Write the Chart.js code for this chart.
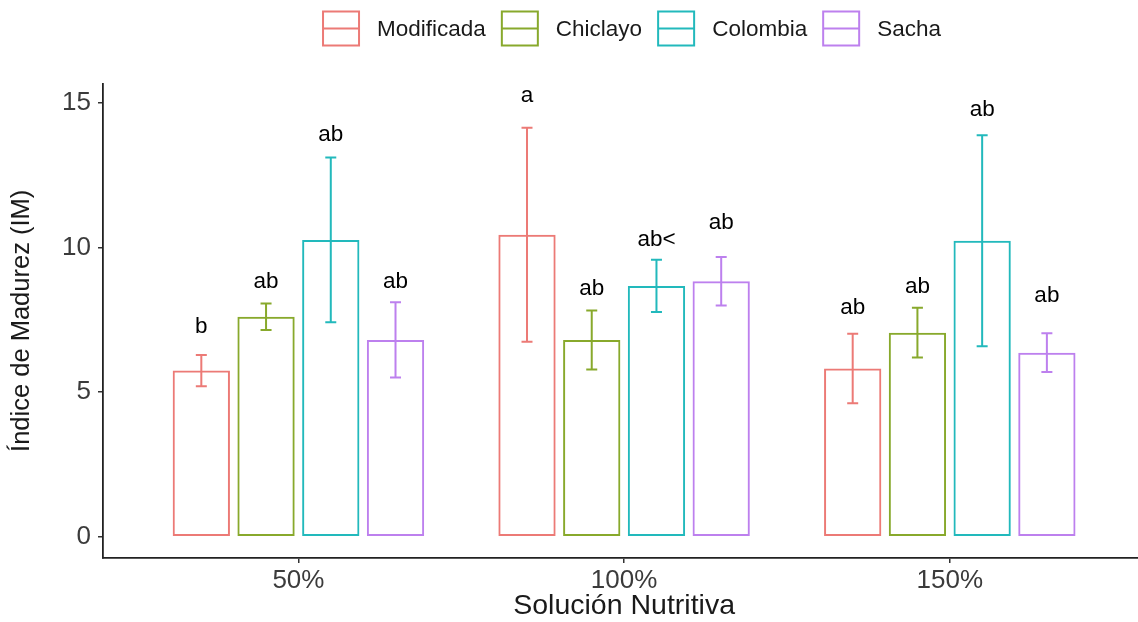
<!DOCTYPE html>
<html><head><meta charset="utf-8">
<script src="https://cdn.jsdelivr.net/npm/chart.js@4"></script>
<style>html,body{margin:0;padding:0;overflow:hidden;background:#fff}canvas{display:block}</style>
</head><body><canvas id="c" width="1150" height="622"></canvas>
<script>
// ---- data ----
const categories = ['50%', '100%', '150%'];
const seriesNames = ['Modificada', 'Chiclayo', 'Colombia', 'Sacha'];
const modificada = [5.75, 10.45, 5.82];
const chiclayo   = [7.61, 6.81, 7.06];
const colombia   = [10.27, 8.68, 10.24];
const sacha      = [6.81, 8.84, 6.37];
const errModificada = [0.54, 3.70, 1.20];
const errChiclayo   = [0.46, 1.02, 0.86];
const errColombia   = [2.85, 0.90, 3.65];
const errSacha      = [1.30, 0.84, 0.67];
const letModificada = ['b', 'a', 'ab'];
const letChiclayo   = ['ab', 'ab', 'ab'];
const letColombia   = ['ab', 'ab<', 'ab'];
const letSacha      = ['ab', 'ab', 'ab'];
const letYModificada = [7.27, 15.26, 7.91];
const letYChiclayo   = [8.83, 8.57, 8.66];
const letYColombia   = [13.91, 10.27, 14.77];
const letYSacha      = [8.83, 10.87, 8.34];
const yTicks = [0, 5, 10, 15];

// ---- styles ----
const FONT = '"Liberation Sans", Arial, Helvetica, sans-serif';
const colors = ['#EC7A76', '#88A92C', '#22B9BC', '#BD80EE'];
const values = [modificada, chiclayo, colombia, sacha];
const errs = [errModificada, errChiclayo, errColombia, errSacha];
const lets = [letModificada, letChiclayo, letColombia, letSacha];
const letYs = [letYModificada, letYChiclayo, letYColombia, letYSacha];

const datasets = seriesNames.map((name, s) => ({
  label: name,
  data: values[s].map((v, i) => ({ x: i + 1, y: v })),
  errors: errs[s],
  letters: lets[s],
  letterY: letYs[s],
  backgroundColor: 'rgba(255,255,255,0)',
  borderColor: colors[s],
  borderWidth: 2,
  borderSkipped: false,
  categoryPercentage: 0.795,
  barPercentage: 0.885
}));

const errorPlugin = {
  id: 'errs',
  afterDatasetsDraw(chart) {
    const ctx = chart.ctx, ys = chart.scales.y;
    chart.data.datasets.forEach((ds, di) => {
      const meta = chart.getDatasetMeta(di);
      meta.data.forEach((bar, i) => {
        const v = ds.data[i].y, e = ds.errors[i];
        const x = bar.x;
        const y1 = ys.getPixelForValue(v + e), y2 = ys.getPixelForValue(v - e);
        ctx.save();
        ctx.strokeStyle = ds.borderColor;
        ctx.lineWidth = 2;
        ctx.beginPath();
        ctx.moveTo(x, y1); ctx.lineTo(x, y2);
        ctx.moveTo(x - 5.5, y1); ctx.lineTo(x + 5.5, y1);
        ctx.moveTo(x - 5.5, y2); ctx.lineTo(x + 5.5, y2);
        ctx.stroke();
        ctx.fillStyle = '#000';
        ctx.font = '22.5px ' + FONT;
        ctx.textAlign = 'center';
        ctx.textBaseline = 'middle';
        ctx.fillText(ds.letters[i], x, ys.getPixelForValue(ds.letterY[i]));
        ctx.restore();
      });
    });
  }
};

const legendPlugin = {
  id: 'ggLegend',
  afterDraw(chart) {
    const ctx = chart.ctx;
    ctx.save();
    ctx.font = '22.5px ' + FONT;
    const keyW = 38, keyH = 36, gapText = 17, gapItem = 15;
    const widths = chart.data.datasets.map(d => ctx.measureText(d.label).width);
    let total = 0;
    widths.forEach((w, i) => { total += keyW + gapText + w + (i < widths.length - 1 ? gapItem : 0); });
    let x = 631.5 - total / 2;
    const cy = 28.5;
    chart.data.datasets.forEach((d, i) => {
      ctx.strokeStyle = d.borderColor;
      ctx.lineWidth = 2;
      ctx.strokeRect(x + 1, cy - keyH / 2 + 1, keyW - 2, keyH - 2);
      ctx.beginPath();
      ctx.moveTo(x + 1, cy); ctx.lineTo(x + keyW - 1, cy);
      ctx.stroke();
      ctx.fillStyle = '#1a1a1a';
      ctx.textAlign = 'left';
      ctx.textBaseline = 'middle';
      ctx.fillText(d.label, x + keyW + gapText, cy + 1);
      x += keyW + gapText + widths[i] + gapItem;
    });
    ctx.restore();
  }
};

new Chart(document.getElementById('c'), {
  type: 'bar',
  data: { datasets },
  plugins: [errorPlugin, legendPlugin],
  options: {
    responsive: false,
    devicePixelRatio: 1,
    animation: false,
    layout: { padding: { top: 83.6, right: 4.8, bottom: 0, left: 0 } },
    plugins: { legend: { display: false }, tooltip: { enabled: false } },
    scales: {
      x: {
        type: 'linear',
        min: 0.4, max: 3.6,
        offset: false,
        afterBuildTicks(scale) { scale.ticks = categories.map((c, i) => ({ value: i + 1 })); },
        afterFit(scale) { scale.height = 64; },
        grid: { display: true, drawOnChartArea: false, offset: false, tickLength: 5, tickColor: '#333', lineWidth: 1.5 },
        border: { display: true, color: '#222', width: 1.8 },
        ticks: {
          padding: 2,
          color: '#3b3b3b',
          font: { family: FONT, size: 26 },
          callback: (v) => categories[Math.round(v) - 1]
        },
        title: {
          display: true, text: 'Solución Nutritiva', color: '#1a1a1a',
          font: { family: FONT, size: 28.5, lineHeight: 1 },
          padding: { top: 0, bottom: 1.5 }
        }
      },
      y: {
        min: -0.737, max: 15.68,
        afterBuildTicks(scale) { scale.ticks = yTicks.map(v => ({ value: v })); },
        afterFit(scale) { scale.width = 103; },
        grid: { display: true, drawOnChartArea: false, tickLength: 5, tickColor: '#333', lineWidth: 1.5 },
        border: { display: true, color: '#222', width: 1.8 },
        ticks: { padding: 7, color: '#3b3b3b', font: { family: FONT, size: 26 } },
        title: {
          display: true, text: 'Índice de Madurez (IM)', color: '#1a1a1a',
          font: { family: FONT, size: 25.5, lineHeight: 1 },
          padding: { top: 9.5, bottom: 0 }
        }
      }
    }
  }
});
</script></body></html>
